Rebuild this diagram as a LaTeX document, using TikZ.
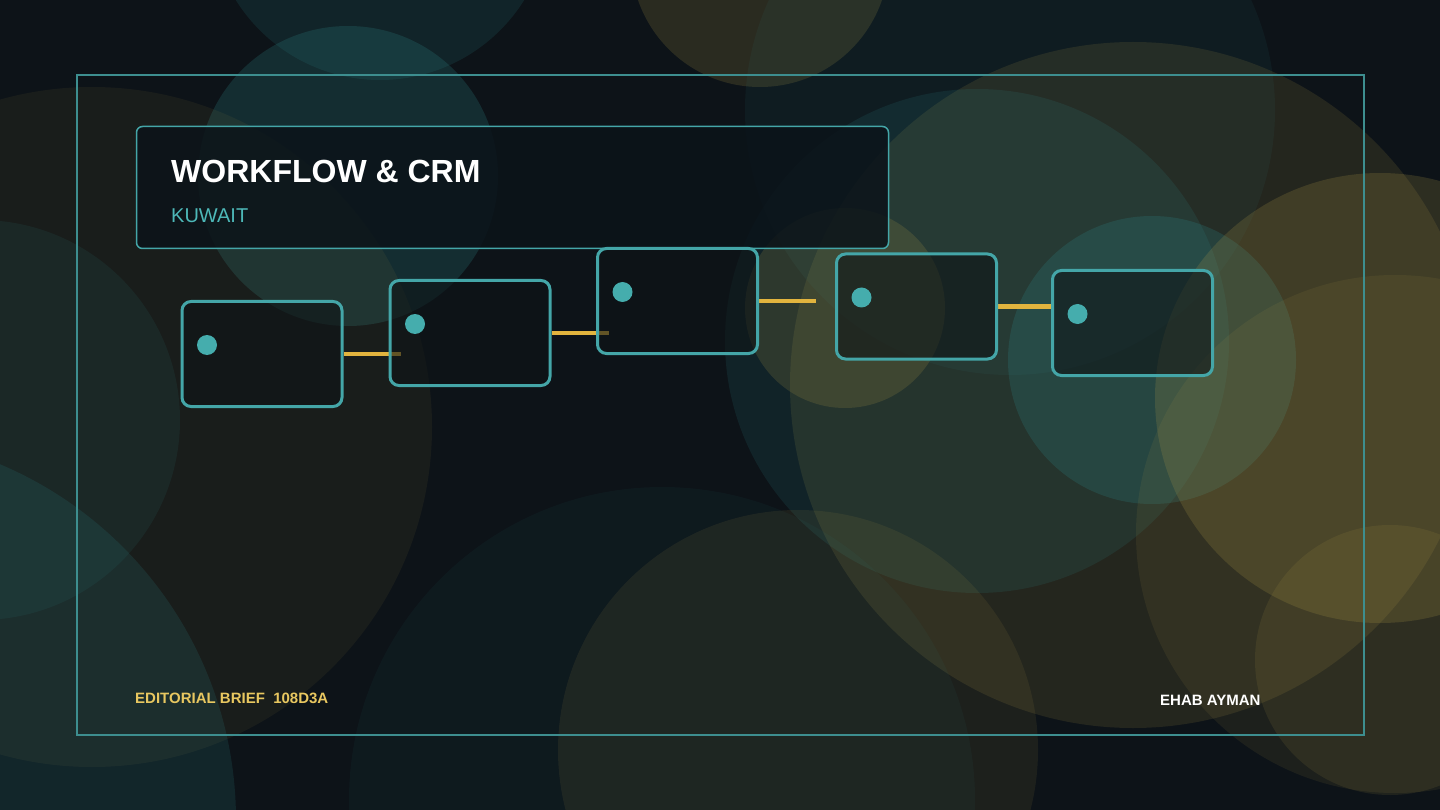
\documentclass[tikz,border=0pt]{standalone}
\usepackage{fontspec}
\setmainfont{Liberation Sans}
\usetikzlibrary{positioning}

\pgfdeclarelayer{bg}
\pgfdeclarelayer{links}
\pgfsetlayers{bg,links,main}

\definecolor{basebg}{HTML}{0D1318}
\definecolor{tealglow}{HTML}{2E8A8C}
\definecolor{oliveglow}{HTML}{B09A48}
\definecolor{framecol}{HTML}{3D8E8F}
\definecolor{stepline}{HTML}{44A6A8}
\definecolor{boxfill}{HTML}{0E1417}
\definecolor{headfill}{HTML}{0B1319}
\definecolor{dotcol}{HTML}{45ADAD}
\definecolor{linkcol}{HTML}{E2B43E}
\definecolor{placecol}{HTML}{4DB8B8}
\definecolor{briefcol}{HTML}{E8C760}

\tikzset{
  stepbox/.style={draw=stepline, line width=3pt, rounded corners=9pt,
    fill=boxfill, fill opacity=0.6, minimum width=160pt,
    minimum height=105pt, inner sep=0pt},
  stepdot/.style={circle, fill=dotcol, minimum size=20pt, inner sep=0pt},
  flowlink/.style={linkcol, line width=4pt},
  headbox/.style={draw=stepline, line width=1.5pt, rounded corners=6pt,
    fill=headfill, fill opacity=0.85, minimum width=752pt,
    minimum height=122pt, inner sep=0pt},
  label/.style={anchor=base west, inner sep=0pt}
}

\begin{document}
\begin{tikzpicture}[x=1pt,y=-1pt]
        \useasboundingbox (0,0) rectangle (1440,810);

        % background glow
        \begin{pgfonlayer}{bg}
          \fill[basebg] (0,0) rectangle (1440,810);
          \begin{scope}
            \clip (0,0) rectangle (1440,810);
            \fill[tealglow,opacity=0.22] (348,176) circle (150pt);
            \fill[tealglow,opacity=0.15] (380,-90) circle (170pt);
            \fill[oliveglow,opacity=0.18] (760,-42) circle (129pt);
            \fill[tealglow,opacity=0.08] (1010,110) circle (265pt);
            \fill[oliveglow,opacity=0.14] (1133,385) circle (343pt);
            \fill[tealglow,opacity=0.14] (977,341) circle (252pt);
            \fill[tealglow,opacity=0.22] (1152,360) circle (144pt);
            \fill[oliveglow,opacity=0.2] (1380,398) circle (225pt);
            \fill[oliveglow,opacity=0.1] (1395,534) circle (259pt);
            \fill[oliveglow,opacity=0.12] (1390,660) circle (135pt);
            \fill[oliveglow,opacity=0.1] (798,750) circle (240pt);
            \fill[tealglow,opacity=0.06] (662,800) circle (313pt);
            \fill[oliveglow,opacity=0.08] (92,427) circle (340pt);
            \fill[tealglow,opacity=0.16] (-150,820) circle (386pt);
            \fill[tealglow,opacity=0.1] (-20,420) circle (200pt);
            \fill[oliveglow,opacity=0.18] (845,308) circle (100pt);
          \end{scope}
        \end{pgfonlayer}

        \draw[framecol, line width=1.5pt] (77,75) rectangle (1364,735);

        % header
        \node (header) at (512.5,187.5) [headbox] {};
        \node (title) at (171,183) [label, text=white,
          font=\fontsize{32}{38}\selectfont\bfseries] {WORKFLOW \& CRM};
        \node (place) at (171,223) [label, text=placecol,
          font=\fontsize{20}{24}\selectfont] {KUWAIT};

        % steps
        \node (s1) at (262,354) [stepbox] {};
        \node (s2) at (470,333) [stepbox] {};
        \node (s3) at (677.5,301) [stepbox] {};
        \node (s4) at (916.5,306.5) [stepbox] {};
        \node (s5) at (1132.5,323) [stepbox] {};

        \node (d1) at ([shift={(-55,-9)}]s1.center) [stepdot] {};
        \node (d2) at ([shift={(-55,-9)}]s2.center) [stepdot] {};
        \node (d3) at ([shift={(-55,-9)}]s3.center) [stepdot] {};
        \node (d4) at ([shift={(-55,-9)}]s4.center) [stepdot] {};
        \node (d5) at ([shift={(-55,-9)}]s5.center) [stepdot] {};

        \coordinate (e1) at ([xshift=57pt]s1.east);
        \coordinate (e2) at ([xshift=57pt]s2.east);
        \coordinate (e3) at ([xshift=57pt]s3.east);
        \coordinate (e4) at ([xshift=54pt]s4.east);

        \begin{pgfonlayer}{links}
          \draw[flowlink] (s1.east) -- (e1);
          \draw[flowlink] (s2.east) -- (e2);
          \draw[flowlink] (s3.east) -- (e3);
          \draw[flowlink] (s4.east) -- (e4);
        \end{pgfonlayer}

        % footer
        \node (brief) at (135,703) [label, text=briefcol,
          font=\fontsize{15}{18}\selectfont\bfseries] {EDITORIAL BRIEF\ \ 108D3A};
        \node (author) at (1160,705.5) [label, text=white,
          font=\fontsize{15}{18}\selectfont\bfseries] {EHAB AYMAN};
      \end{tikzpicture}
\end{document}
